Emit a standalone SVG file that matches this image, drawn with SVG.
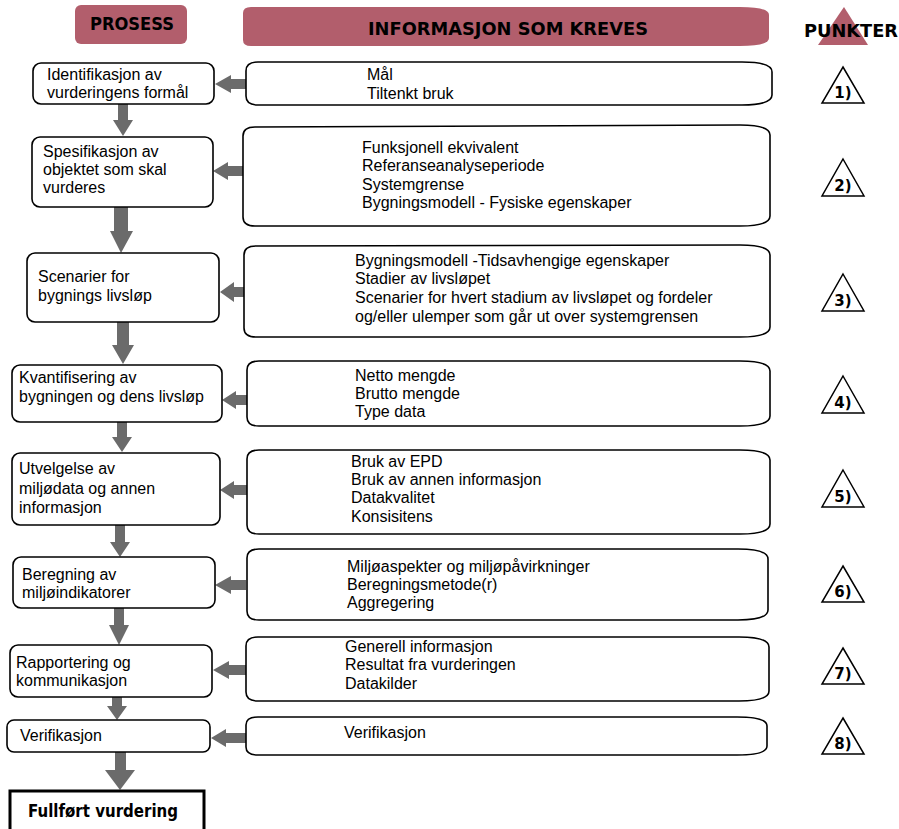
<svg xmlns="http://www.w3.org/2000/svg" width="899" height="829" viewBox="0 0 899 829">
  <style>
    .proc { fill: #ffffff; stroke: #000000; stroke-width: 1.6; }
    .info { fill: #ffffff; stroke: #000000; stroke-width: 1.6; }
    .head { fill: #b25e6c; }
    .arrow { fill: #6b6b6b; }
    .tri { fill: #ffffff; stroke: #000000; stroke-width: 1.5; stroke-linejoin: miter; }
    .t { font-family: "Liberation Sans", Arial, sans-serif; font-size: 16px; fill: #000000; }
    .hb { font-family: "DejaVu Sans", "Liberation Sans", sans-serif; font-weight: bold; font-size: 17px; fill: #000000; }
    .num { font-family: "DejaVu Sans", "Liberation Sans", sans-serif; font-weight: bold; font-size: 15px; fill: #000000; text-anchor: middle; }
  </style>

  <!-- column headers -->
  <g id="header-prosess">
    <rect class="head" x="75" y="5" width="112" height="39" rx="6"/>
    <text class="hb" x="90" y="30" textLength="84" lengthAdjust="spacingAndGlyphs">PROSESS</text>
  </g>
  <g id="header-informasjon">
    <path class="head" d="M251,7 L740,7 Q769,7 769,15 L769,38 Q769,46 740,46 L251,46 Q243,46 243,40 L243,13 Q243,7 251,7 Z"/>
    <text class="hb" x="368" y="35" textLength="280" lengthAdjust="spacingAndGlyphs">INFORMASJON SOM KREVES</text>
  </g>
  <g id="header-punkter">
    <polygon class="head" points="844,7 868,45 818,45"/>
    <text class="hb" x="804" y="37" textLength="94" lengthAdjust="spacingAndGlyphs">PUNKTER</text>
  </g>

  <!-- connectors: information feeds each step, steps follow one another -->
  <g id="connectors">
    <!-- downward flow between process steps -->
    <polygon class="arrow" points="118,104 128,104 128,120 133,120 123,136 113,120 118,120"/>
    <polygon class="arrow" points="114,207 128,207 128,231 133,231 121,253 110,231 114,231"/>
    <polygon class="arrow" points="117,322 129,322 129,345 134,345 123,364 112,345 117,345"/>
    <polygon class="arrow" points="117,422 127,422 127,437 132,437 122,452 112,437 117,437"/>
    <polygon class="arrow" points="115,525 125,525 125,542 130,542 120,557 110,542 115,542"/>
    <polygon class="arrow" points="114,608 124,608 124,625 129,625 119,645 109,625 114,625"/>
    <polygon class="arrow" points="112,697 122,697 122,706 127,706 117,720 107,706 112,706"/>
    <polygon class="arrow" points="115,752 126,752 126,770 135,770 120,790 105,770 115,770"/>
    <!-- leftward arrows from information boxes -->
    <polygon class="arrow" points="246,79 231,79 231,75 215,84 231,93 231,89 246,89"/>
    <polygon class="arrow" points="243,166 228,166 228,162 213,171 228,180 228,176 243,176"/>
    <polygon class="arrow" points="245,287 234,287 234,282 220,292 234,302 234,297 245,297"/>
    <polygon class="arrow" points="247,395 236,395 236,391 222,400 236,409 236,405 247,405"/>
    <polygon class="arrow" points="247,485 234,485 234,481 220,490 234,499 234,495 247,495"/>
    <polygon class="arrow" points="246,580 231,580 231,576 215,585 231,594 231,590 246,590"/>
    <polygon class="arrow" points="246,665 229,665 229,661 213,670 229,679 229,675 246,675"/>
    <polygon class="arrow" points="246,733 226,733 226,729 211,738 226,747 226,743 246,743"/>
  </g>

  <!-- process steps -->
  <g id="step-1">
    <rect class="proc" x="33" y="63" width="181" height="41" rx="8"/>
    <text class="t" x="47" y="80">Identifikasjon av</text>
    <text class="t" x="47" y="98">vurderingens formål</text>
  </g>
  <g id="step-2">
    <rect class="proc" x="32" y="137" width="181" height="70" rx="8"/>
    <text class="t" x="43" y="157">Spesifikasjon av</text>
    <text class="t" x="43" y="175">objektet som skal</text>
    <text class="t" x="43" y="193">vurderes</text>
  </g>
  <g id="step-3">
    <rect class="proc" x="27" y="253" width="192" height="69" rx="8"/>
    <text class="t" x="38" y="282">Scenarier for</text>
    <text class="t" x="38" y="301">bygnings livsløp</text>
  </g>
  <g id="step-4">
    <rect class="proc" x="12" y="365" width="210" height="57" rx="8"/>
    <text class="t" x="19" y="383">Kvantifisering av</text>
    <text class="t" x="19" y="402">bygningen og dens livsløp</text>
  </g>
  <g id="step-5">
    <rect class="proc" x="12" y="453" width="208" height="72" rx="8"/>
    <text class="t" x="19" y="474">Utvelgelse av</text>
    <text class="t" x="19" y="494">miljødata og annen</text>
    <text class="t" x="19" y="513">informasjon</text>
  </g>
  <g id="step-6">
    <rect class="proc" x="13" y="557" width="202" height="51" rx="8"/>
    <text class="t" x="22" y="580">Beregning av</text>
    <text class="t" x="22" y="598">miljøindikatorer</text>
  </g>
  <g id="step-7">
    <rect class="proc" x="10" y="645" width="202" height="52" rx="8"/>
    <text class="t" x="16" y="668">Rapportering og</text>
    <text class="t" x="16" y="686">kommunikasjon</text>
  </g>
  <g id="step-8">
    <rect class="proc" x="7" y="720" width="203" height="32" rx="7"/>
    <text class="t" x="20" y="741">Verifikasjon</text>
  </g>
  <g id="step-done">
    <rect x="10" y="791" width="194" height="50" fill="#ffffff" stroke="#000000" stroke-width="3"/>
    <text class="hb" x="28" y="817" font-size="15" textLength="150" lengthAdjust="spacingAndGlyphs">Fullført vurdering</text>
  </g>

  <!-- required information -->
  <g id="info-1">
    <path class="info" d="M258,62 L742,62 Q772,62 772,72 L772,95 Q772,105 742,105 L258,105 Q246,105 246,96 L246,71 Q246,62 258,62 Z"/>
    <text class="t" x="367" y="80">Mål</text>
    <text class="t" x="367" y="99">Tiltenkt bruk</text>
  </g>
  <g id="info-2">
    <path class="info" d="M255,127 L740,125 Q770,125 770,135 L770,216 Q770,226 740,226 L255,226 Q243,226 243,217 L243,136 Q243,127 255,127 Z"/>
    <text class="t" x="362" y="153">Funksjonell ekvivalent</text>
    <text class="t" x="362" y="171">Referanseanalyseperiode</text>
    <text class="t" x="362" y="190">Systemgrense</text>
    <text class="t" x="362" y="208">Bygningsmodell - Fysiske egenskaper</text>
  </g>
  <g id="info-3">
    <path class="info" d="M256,246 L740,245 Q770,245 770,255 L770,327 Q770,337 740,337 L256,337 Q244,337 244,328 L244,255 Q244,246 256,246 Z"/>
    <text class="t" x="355" y="266">Bygningsmodell -Tidsavhengige egenskaper</text>
    <text class="t" x="355" y="284">Stadier av livsløpet</text>
    <text class="t" x="355" y="303">Scenarier for hvert stadium av livsløpet og fordeler</text>
    <text class="t" x="355" y="322">og/eller ulemper som går ut over systemgrensen</text>
  </g>
  <g id="info-4">
    <path class="info" d="M259,361 L740,361 Q770,361 770,371 L770,416 Q770,426 740,426 L259,426 Q247,426 247,417 L247,370 Q247,361 259,361 Z"/>
    <text class="t" x="355" y="381">Netto mengde</text>
    <text class="t" x="355" y="399">Brutto mengde</text>
    <text class="t" x="355" y="417">Type data</text>
  </g>
  <g id="info-5">
    <path class="info" d="M259,450 L740,450 Q770,450 770,460 L770,524 Q770,534 740,534 L259,534 Q247,534 247,525 L247,459 Q247,450 259,450 Z"/>
    <text class="t" x="351" y="467">Bruk av EPD</text>
    <text class="t" x="351" y="485">Bruk av annen informasjon</text>
    <text class="t" x="351" y="503">Datakvalitet</text>
    <text class="t" x="351" y="522">Konsisitens</text>
  </g>
  <g id="info-6">
    <path class="info" d="M259,549 L738,549 Q768,549 768,559 L768,610 Q768,620 738,620 L259,620 Q247,620 247,611 L247,558 Q247,549 259,549 Z"/>
    <text class="t" x="347" y="572">Miljøaspekter og miljøpåvirkninger</text>
    <text class="t" x="347" y="590">Beregningsmetode(r)</text>
    <text class="t" x="347" y="608">Aggregering</text>
  </g>
  <g id="info-7">
    <path class="info" d="M258,637 L739,637 Q769,637 769,647 L769,691 Q769,701 739,701 L258,701 Q246,701 246,692 L246,646 Q246,637 258,637 Z"/>
    <text class="t" x="345" y="652">Generell informasjon</text>
    <text class="t" x="345" y="670">Resultat fra vurderingen</text>
    <text class="t" x="345" y="689">Datakilder</text>
  </g>
  <g id="info-8">
    <path class="info" d="M258,717 L737,717 Q767,717 767,726 L767,746 Q767,755 737,755 L258,755 Q246,755 246,747 L246,725 Q246,717 258,717 Z"/>
    <text class="t" x="344" y="738">Verifikasjon</text>
  </g>

  <!-- clause markers -->
  <g id="punkt-1"><polygon class="tri" points="843,67 864,103 822,103"/><text class="num" x="843" y="98">1)</text></g>
  <g id="punkt-2"><polygon class="tri" points="843,159 864,196 822,196"/><text class="num" x="843" y="191">2)</text></g>
  <g id="punkt-3"><polygon class="tri" points="843,274 864,311 822,311"/><text class="num" x="843" y="306">3)</text></g>
  <g id="punkt-4"><polygon class="tri" points="843,376 864,413 822,413"/><text class="num" x="843" y="408">4)</text></g>
  <g id="punkt-5"><polygon class="tri" points="843,470 864,507 822,507"/><text class="num" x="843" y="502">5)</text></g>
  <g id="punkt-6"><polygon class="tri" points="843,566 864,602 822,602"/><text class="num" x="843" y="597">6)</text></g>
  <g id="punkt-7"><polygon class="tri" points="843,648 864,684 822,684"/><text class="num" x="843" y="679">7)</text></g>
  <g id="punkt-8"><polygon class="tri" points="843,718 864,754 822,754"/><text class="num" x="843" y="749">8)</text></g>
</svg>
